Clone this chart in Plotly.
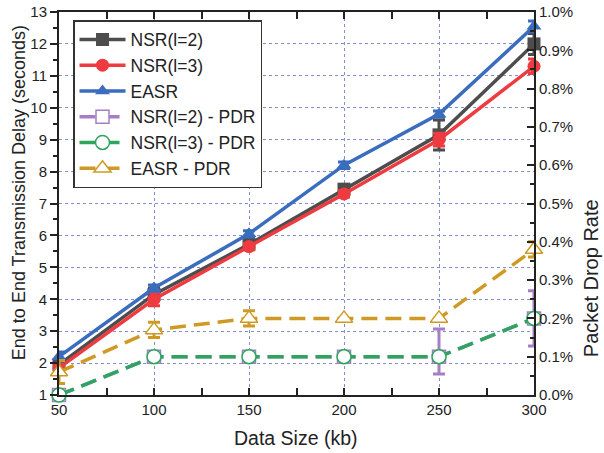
import plotly.graph_objects as go

data_size = [50, 100, 150, 200, 250, 300]

nsr2_delay = [1.95, 4.15, 5.72, 7.45, 9.15, 12.0]
nsr2_err = [0.12, 0.2, 0.1, 0.1, 0.47, 0.33]
nsr3_delay = [1.85, 4.0, 5.65, 7.3, 9.0, 11.3]
nsr3_err = [0.15, 0.2, 0.1, 0.1, 0.2, 0.23]
easr_delay = [2.2, 4.35, 6.05, 8.2, 9.8, 12.55]
easr_err = [0.15, 0.1, 0.1, 0.1, 0.1, 0.17]

nsr2_pdr = [0.0, 0.001, 0.001, 0.001, 0.001, 0.002]
nsr2_pdr_err_plus = [0.0, 0.0, 0.0, 0.0, 0.00072, 0.00072]
nsr2_pdr_err_minus = [0.0, 0.0, 0.0, 0.0, 0.00045, 0.00072]
nsr3_pdr = [0.0, 0.001, 0.001, 0.001, 0.001, 0.002]
easr_pdr = [0.0006, 0.0017, 0.002, 0.002, 0.002, 0.0038]
easr_pdr_err = [0.0003, 0.0002, 0.0002, 0.0, 0.0, 0.0002]

GRAY = "#4d4d4d"
RED = "#ef3b3f"
BLUE = "#3a6dbd"
PURPLE = "#a47fc6"
GREEN = "#2ea55f"
GOLD = "#cf9a24"

FONT = "Liberation Sans, Arial, sans-serif"

fig = go.Figure()


def delay_trace(name, y, err, color, symbol):
    return go.Scatter(
        x=data_size, y=y, name=name, mode="lines+markers",
        line=dict(color=color, width=3.5),
        marker=dict(symbol=symbol, size=13, color=color),
        error_y=dict(type="data", array=err, color=color, thickness=3, width=6),
        yaxis="y", cliponaxis=False,
    )


fig.add_trace(delay_trace("NSR(l=2)", nsr2_delay, nsr2_err, GRAY, "square"))
fig.add_trace(delay_trace("NSR(l=3)", nsr3_delay, nsr3_err, RED, "circle"))
fig.add_trace(delay_trace("EASR", easr_delay, easr_err, BLUE, "triangle-up"))

fig.add_trace(go.Scatter(
    x=data_size, y=nsr2_pdr, name="NSR(l=2) - PDR", mode="lines+markers",
    line=dict(color=PURPLE, width=3.5, dash="16px,8px"),
    marker=dict(symbol="square", size=13, color="white", line=dict(color=PURPLE, width=1.5)),
    error_y=dict(type="data", symmetric=False, array=nsr2_pdr_err_plus,
                 arrayminus=nsr2_pdr_err_minus, color=PURPLE, thickness=3, width=6),
    yaxis="y2", cliponaxis=False,
))
fig.add_trace(go.Scatter(
    x=data_size, y=nsr3_pdr, name="NSR(l=3) - PDR", mode="lines+markers",
    line=dict(color=GREEN, width=3.5, dash="16px,8px"),
    marker=dict(symbol="circle", size=14, color="white", line=dict(color=GREEN, width=1.5)),
    yaxis="y2", cliponaxis=False,
))
fig.add_trace(go.Scatter(
    x=data_size, y=easr_pdr, name="EASR - PDR", mode="lines+markers",
    line=dict(color=GOLD, width=3.5, dash="16px,8px"),
    marker=dict(symbol="triangle-up", size=15, color="white", line=dict(color=GOLD, width=1.5)),
    error_y=dict(type="data", array=easr_pdr_err, color=GOLD, thickness=3, width=6),
    yaxis="y2", cliponaxis=False,
))

grid = dict(showgrid=True, gridcolor="#7f8fcf", griddash="dot", gridwidth=1)

fig.update_layout(
    width=604, height=453,
    margin=dict(l=59, r=70, t=12, b=58),
    paper_bgcolor="white", plot_bgcolor="white",
    font=dict(family=FONT, size=15, color="#222"),
    showlegend=True,
    legend=dict(
        x=0.0295, y=0.979, xanchor="left", yanchor="top",
        bordercolor="#333", borderwidth=1.5, bgcolor="white",
        font=dict(size=17.5, family=FONT, color="#222"),
        itemwidth=46, tracegroupgap=0,
    ),
    xaxis=dict(
        range=[50, 300], tickvals=data_size, ticks="inside", ticklen=7,
        tickwidth=1.5, tickcolor="#222", automargin=False,
        showline=True, linecolor="#222", linewidth=2, mirror="allticks",
        minor=dict(ticks="inside", ticklen=4, dtick=25, tick0=50, tickcolor="#222", showgrid=False),
        zeroline=False, **grid,
    ),
    yaxis=dict(
        range=[1, 13], dtick=1, ticks="outside", ticklen=7, tickwidth=1.5, tickcolor="#222",
        automargin=False,
        showline=True, linecolor="#222", linewidth=2,
        minor=dict(ticks="outside", ticklen=4, dtick=0.5, tickcolor="#222", showgrid=False),
        zeroline=False, **grid,
    ),
    yaxis2=dict(
        range=[0, 0.01], dtick=0.001, tickformat=".1%", overlaying="y", side="right",
        ticks="inside", ticklen=7, tickwidth=1.5, tickcolor="#222",
        automargin=False,
        showline=True, linecolor="#222", linewidth=2,
        minor=dict(ticks="inside", ticklen=4, dtick=0.0005, tickcolor="#222", showgrid=False),
        showgrid=False, zeroline=False,
    ),
    annotations=[
        dict(text="Data Size (kb)", xref="paper", yref="paper", x=0.499, y=-0.112,
             xanchor="center", yanchor="middle", showarrow=False,
             font=dict(size=19.5, family=FONT, color="#222")),
        dict(text="End to End Transmission Delay (seconds)", xref="paper", yref="paper",
             x=-0.0842, y=0.527, xanchor="center", yanchor="middle", textangle=-90,
             showarrow=False, font=dict(size=18, family=FONT, color="#222")),
        dict(text="Packet Drop Rate", xref="paper", yref="paper",
             x=1.12, y=0.305, xanchor="center", yanchor="middle", textangle=-90,
             showarrow=False, font=dict(size=20, family=FONT, color="#222")),
    ],
)

# remove the page's default body margin so the figure fills the window exactly
fig.write_html("out.html", config={"displayModeBar": False},
               post_script="document.body.style.margin='0px';")
